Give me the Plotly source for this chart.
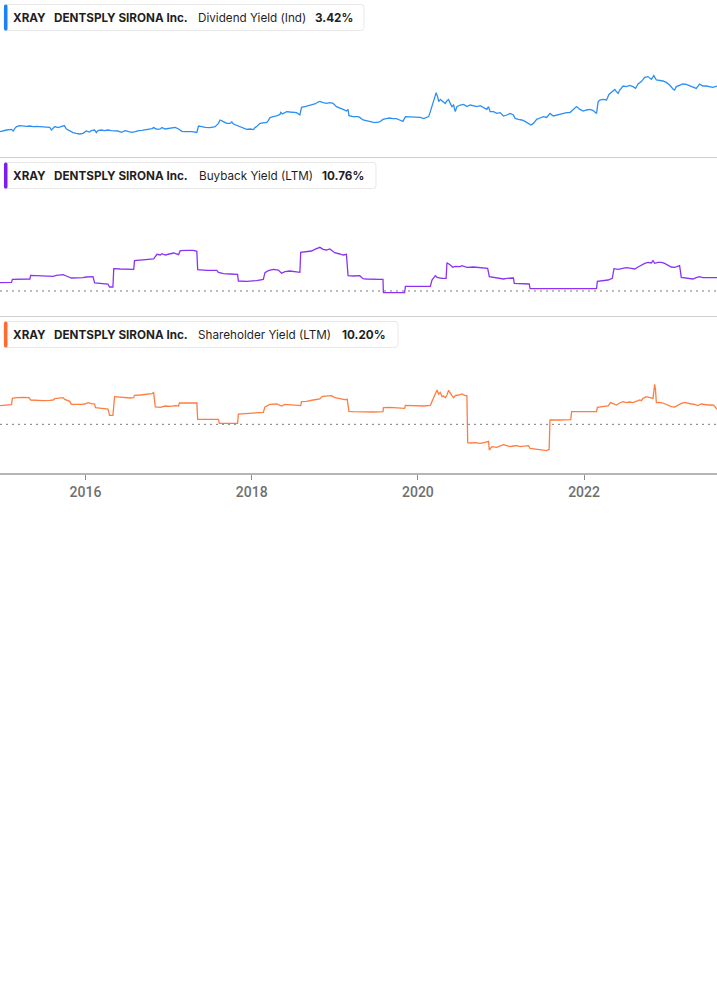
import plotly.graph_objects as go

W, H = 717, 1005

# ---------------- data ----------------
x_range = [2014.971, 2023.600]
tick_vals = [2016, 2018, 2020, 2022]
tick_text = ["2016", "2018", "2020", "2022"]

ticker = "XRAY"
company = "DENTSPLY SIRONA Inc."
metrics = ["Dividend Yield (Ind)", "Buyback Yield (LTM)", "Shareholder Yield (LTM)"]
latest = ["3.42%", "10.76%", "10.20%"]

div_t = [
    2014.97, 2015.01, 2015.05, 2015.11, 2015.13, 2015.15, 2015.17, 2015.21, 2015.25, 2015.29,
    2015.33, 2015.37, 2015.41, 2015.45, 2015.49, 2015.53, 2015.57, 2015.59, 2015.63, 2015.67,
    2015.71, 2015.745, 2015.77, 2015.81, 2015.85, 2015.89, 2015.93, 2015.97, 2016.01, 2016.05,
    2016.07, 2016.11, 2016.13, 2016.15, 2016.19, 2016.23, 2016.27, 2016.31, 2016.35, 2016.39,
    2016.43, 2016.48, 2016.52, 2016.56, 2016.60, 2016.64, 2016.68, 2016.72, 2016.76, 2016.80,
    2016.82, 2016.86, 2016.90, 2016.92, 2016.96, 2017.00, 2017.04, 2017.08, 2017.12, 2017.16,
    2017.20, 2017.24, 2017.28, 2017.34, 2017.36, 2017.40, 2017.44, 2017.50, 2017.56, 2017.60,
    2017.62, 2017.66, 2017.70, 2017.74, 2017.76, 2017.78, 2017.82, 2017.86, 2017.90, 2017.94,
    2017.98, 2018.02, 2018.04, 2018.06, 2018.10, 2018.14, 2018.18, 2018.20, 2018.22, 2018.26,
    2018.30, 2018.34, 2018.35, 2018.37, 2018.42, 2018.46, 2018.50, 2018.54, 2018.58, 2018.60,
    2018.64, 2018.68, 2018.72, 2018.76, 2018.80, 2018.82, 2018.86, 2018.90, 2018.94, 2018.98,
    2019.02, 2019.06, 2019.10, 2019.14, 2019.16, 2019.17, 2019.22, 2019.28,
    2019.30, 2019.34, 2019.38, 2019.44, 2019.48, 2019.54, 2019.58, 2019.62, 2019.66, 2019.70,
    2019.74, 2019.78, 2019.82, 2019.85, 2019.90, 2019.96, 2020.03, 2020.07, 2020.11, 2020.13,
    2020.15, 2020.19, 2020.21, 2020.22, 2020.24, 2020.25, 2020.27, 2020.31, 2020.33, 2020.35,
    2020.37, 2020.39, 2020.41, 2020.43, 2020.45, 2020.47, 2020.51, 2020.55, 2020.59, 2020.63,
    2020.67, 2020.71, 2020.75, 2020.79, 2020.83, 2020.85, 2020.87, 2020.91, 2020.95, 2020.99,
    2021.03, 2021.07, 2021.11, 2021.15, 2021.17, 2021.21, 2021.25, 2021.29, 2021.33, 2021.36,
    2021.39, 2021.43, 2021.47, 2021.51, 2021.55, 2021.59, 2021.63, 2021.67, 2021.71, 2021.75,
    2021.79, 2021.83, 2021.87, 2021.91, 2021.95, 2021.99, 2022.03, 2022.07, 2022.11, 2022.15,
    2022.17, 2022.19, 2022.23, 2022.27, 2022.30, 2022.33, 2022.37, 2022.39, 2022.41, 2022.43,
    2022.47, 2022.51, 2022.55, 2022.59, 2022.62, 2022.65, 2022.69, 2022.73, 2022.77, 2022.81,
    2022.84, 2022.87, 2022.91, 2022.95, 2022.99, 2023.03, 2023.07, 2023.09, 2023.11, 2023.15,
    2023.19, 2023.23, 2023.27, 2023.31, 2023.35, 2023.39, 2023.43, 2023.47, 2023.51, 2023.55,
    2023.60,
]
div_v = [
    1.14, 1.19, 1.22, 1.25, 1.17, 1.30, 1.39, 1.44, 1.42, 1.40,
    1.42, 1.39, 1.40, 1.39, 1.37, 1.37, 1.35, 1.22, 1.39, 1.34,
    1.40, 1.44, 1.27, 1.17, 1.09, 1.05, 1.02, 1.05, 1.17, 1.12,
    1.19, 1.22, 1.09, 1.19, 1.22, 1.19, 1.22, 1.19, 1.19, 1.17,
    1.10, 1.19, 1.14, 1.10, 1.14, 1.19, 1.20, 1.22, 1.25, 1.29,
    1.34, 1.25, 1.27, 1.34, 1.27, 1.30, 1.32, 1.35, 1.27, 1.15,
    1.14, 1.14, 1.14, 1.10, 1.42, 1.39, 1.35, 1.34, 1.39, 1.55,
    1.72, 1.64, 1.55, 1.55, 1.62, 1.52, 1.45, 1.39, 1.30, 1.25,
    1.27, 1.24, 1.34, 1.39, 1.55, 1.59, 1.60, 1.69, 1.84, 1.89,
    1.92, 2.00, 2.10, 2.02, 2.14, 2.12, 2.09, 2.09, 1.97, 2.35,
    2.39, 2.44, 2.47, 2.52, 2.62, 2.65, 2.59, 2.55, 2.59, 2.55,
    2.39, 2.30, 2.25, 2.17, 2.25, 1.94, 1.89, 1.89,
    1.85, 1.72, 1.69, 1.64, 1.59, 1.62, 1.75, 1.79, 1.82, 1.79,
    1.79, 1.72, 1.65, 1.89, 1.87, 1.85, 1.85, 1.79, 1.85, 1.89,
    2.14, 2.64, 2.89, 3.09, 2.85, 2.64, 2.75, 2.60, 2.55, 2.69,
    2.75, 2.55, 2.39, 2.47, 2.14, 2.39, 2.47, 2.50, 2.39, 2.47,
    2.42, 2.39, 2.44, 2.35, 2.25, 2.39, 2.14, 2.14, 2.05, 2.09,
    1.92, 1.97, 2.05, 1.97, 1.80, 1.75, 1.72, 1.65, 1.55, 1.47,
    1.55, 1.75, 1.82, 1.89, 1.85, 2.05, 1.92, 1.97, 2.00, 2.05,
    2.09, 2.09, 2.22, 2.39, 2.25, 2.17, 2.22, 2.25, 2.19, 2.05,
    2.64, 2.72, 2.75, 2.72, 3.00, 3.10, 3.25, 3.14, 3.05, 3.22,
    3.42, 3.39, 3.45, 3.39, 3.30, 3.52, 3.64, 3.85, 3.89, 3.75,
    3.94, 3.72, 3.69, 3.67, 3.60, 3.47, 3.27, 3.22, 3.39, 3.47,
    3.52, 3.50, 3.42, 3.35, 3.30, 3.52, 3.42, 3.42, 3.39, 3.35,
    3.42,
]

bb_t = [
    2014.97, 2015.11, 2015.12, 2015.33, 2015.34, 2015.57, 2015.61, 2015.65, 2015.73, 2015.77,
    2015.83, 2015.97, 2016.01, 2016.09, 2016.11, 2016.27, 2016.29, 2016.33, 2016.34, 2016.42,
    2016.48, 2016.58, 2016.59, 2016.70, 2016.82, 2016.84, 2016.86, 2016.90, 2016.92, 2016.96,
    2017.02, 2017.06, 2017.12, 2017.14, 2017.22, 2017.30, 2017.34, 2017.35, 2017.46, 2017.58,
    2017.60, 2017.66, 2017.74, 2017.83, 2017.84, 2017.94, 2018.06, 2018.14, 2018.16, 2018.20,
    2018.26, 2018.32, 2018.36, 2018.40, 2018.46, 2018.52, 2018.58, 2018.59, 2018.66, 2018.72,
    2018.76, 2018.78, 2018.82, 2018.86, 2018.90, 2018.94, 2018.98, 2019.00, 2019.06, 2019.10,
    2019.14, 2019.16, 2019.22, 2019.30, 2019.34, 2019.38, 2019.54, 2019.58, 2019.585, 2019.70,
    2019.84, 2019.85, 2019.99, 2020.15, 2020.17, 2020.21, 2020.23, 2020.29, 2020.34, 2020.35,
    2020.39, 2020.42, 2020.45, 2020.51, 2020.53, 2020.59, 2020.67, 2020.73, 2020.77, 2020.84,
    2020.86, 2020.91, 2020.99, 2021.03, 2021.07, 2021.15, 2021.16, 2021.27, 2021.34, 2021.35,
    2021.51, 2021.71, 2021.91, 2022.15, 2022.16, 2022.23, 2022.29, 2022.34, 2022.36, 2022.41,
    2022.47, 2022.51, 2022.57, 2022.61, 2022.65, 2022.69, 2022.73, 2022.77, 2022.81, 2022.83,
    2022.85, 2022.89, 2022.93, 2022.97, 2023.01, 2023.05, 2023.09, 2023.13, 2023.15, 2023.17,
    2023.23, 2023.31, 2023.35, 2023.39, 2023.43, 2023.51, 2023.60,
]
bb_v = [
    6.75, 7.02, 9.45, 9.72, 12.69, 12.15, 11.88, 12.69, 13.23, 12.15,
    10.53, 10.80, 11.34, 11.61, 6.48, 5.67, 3.24, 3.24, 18.09, 17.82,
    17.55, 17.55, 24.57, 25.38, 25.92, 27.81, 29.70, 29.16, 30.24, 29.16,
    30.24, 30.78, 29.43, 32.67, 32.94, 32.94, 32.13, 17.28, 16.74, 16.74,
    15.12, 14.04, 13.77, 13.50, 8.10, 7.83, 8.37, 9.45, 14.85, 16.47,
    17.55, 17.01, 14.31, 15.66, 16.20, 15.39, 15.12, 31.32, 31.86, 32.40,
    33.75, 34.29, 35.37, 33.75, 33.21, 34.02, 32.40, 31.05, 29.97, 29.16,
    29.70, 12.42, 12.15, 12.42, 9.99, 9.72, 9.45, 9.45, -1.35, -1.62,
    -1.35, 3.78, 3.51, 3.78, 8.91, 12.42, 11.07, 10.26, 10.26, 22.95,
    21.06, 19.17, 19.98, 19.71, 20.52, 19.17, 19.44, 19.17, 18.63, 18.36,
    11.61, 11.07, 10.53, 9.72, 10.26, 10.53, 6.21, 5.94, 5.67, 1.89,
    1.89, 1.89, 1.89, 1.89, 7.83, 8.37, 8.91, 10.26, 18.09, 17.55,
    18.63, 18.90, 18.36, 17.82, 19.44, 21.06, 22.41, 23.22, 22.68, 24.57,
    22.41, 23.22, 23.22, 22.41, 21.06, 19.44, 19.17, 20.25, 20.52, 11.07,
    10.26, 9.72, 10.80, 11.61, 10.80, 10.80, 10.76,
]

sh_t = [
    2014.97, 2015.05, 2015.11, 2015.12, 2015.17, 2015.25, 2015.32, 2015.34, 2015.41, 2015.49,
    2015.57, 2015.61, 2015.63, 2015.69, 2015.73, 2015.75, 2015.77, 2015.81, 2015.83, 2015.89,
    2015.95, 2015.99, 2016.03, 2016.07, 2016.11, 2016.12, 2016.17, 2016.23, 2016.27, 2016.29,
    2016.33, 2016.35, 2016.42, 2016.48, 2016.54, 2016.58, 2016.59, 2016.66, 2016.74, 2016.80,
    2016.82, 2016.84, 2016.90, 2016.96, 2017.02, 2017.08, 2017.12, 2017.13, 2017.22, 2017.34,
    2017.35, 2017.46, 2017.60, 2017.61, 2017.70, 2017.83, 2017.84, 2017.94, 2018.06, 2018.14,
    2018.16, 2018.22, 2018.30, 2018.36, 2018.40, 2018.46, 2018.54, 2018.59, 2018.60, 2018.66,
    2018.74, 2018.82, 2018.85, 2018.90, 2018.96, 2019.00, 2019.06, 2019.12, 2019.15, 2019.17,
    2019.22, 2019.30, 2019.38, 2019.46, 2019.58, 2019.585, 2019.66, 2019.74, 2019.84, 2019.85,
    2019.95, 2020.07, 2020.15, 2020.17, 2020.21, 2020.23, 2020.25, 2020.27, 2020.29, 2020.31,
    2020.33, 2020.35, 2020.37, 2020.39, 2020.41, 2020.43, 2020.45, 2020.49, 2020.53, 2020.57,
    2020.59, 2020.60, 2020.63, 2020.69, 2020.75, 2020.81, 2020.85, 2020.86, 2020.89, 2020.95,
    2020.99, 2021.03, 2021.07, 2021.11, 2021.15, 2021.19, 2021.23, 2021.27, 2021.31, 2021.33,
    2021.35, 2021.43, 2021.49, 2021.55, 2021.58, 2021.59, 2021.71, 2021.84, 2021.85, 2021.95,
    2022.07, 2022.15, 2022.16, 2022.23, 2022.29, 2022.32, 2022.35, 2022.39, 2022.43, 2022.47,
    2022.51, 2022.55, 2022.59, 2022.63, 2022.67, 2022.69, 2022.71, 2022.75, 2022.79, 2022.83,
    2022.85, 2022.86, 2022.87, 2022.91, 2022.95, 2022.99, 2023.05, 2023.09, 2023.13, 2023.17,
    2023.21, 2023.25, 2023.29, 2023.33, 2023.37, 2023.41, 2023.45, 2023.49, 2023.55, 2023.57,
    2023.60,
]
sh_v = [
    12.70, 13.15, 13.38, 17.68, 18.14, 18.36, 18.14, 16.55, 16.10, 16.10,
    16.32, 16.55, 17.46, 17.68, 18.14, 17.00, 16.55, 15.64, 13.60, 13.38,
    13.60, 13.83, 14.74, 14.06, 13.83, 11.34, 10.88, 10.43, 10.43, 6.12,
    6.12, 18.82, 18.36, 18.14, 17.91, 18.14, 19.72, 19.95, 20.40, 20.86,
    21.54, 11.79, 11.56, 12.47, 12.24, 12.70, 12.47, 14.51, 14.51, 14.51,
    3.40, 3.40, 3.40, 0.68, 0.68, 0.68, 7.03, 7.25, 7.71, 8.16,
    11.79, 13.60, 13.83, 12.47, 13.60, 13.38, 13.15, 12.70, 15.42, 15.64,
    16.55, 17.23, 19.04, 19.27, 19.50, 18.14, 17.23, 16.78, 17.00, 8.84,
    8.61, 8.39, 8.61, 8.39, 8.61, 11.34, 11.56, 11.11, 10.88, 12.92,
    12.70, 12.47, 12.92, 15.42, 19.95, 23.35, 20.63, 21.76, 18.82, 19.27,
    18.14, 19.95, 23.12, 21.08, 19.50, 18.14, 19.50, 19.95, 20.63, 19.50,
    19.50, -12.47, -12.70, -12.47, -12.92, -12.24, -11.56, -17.46, -15.19, -15.64,
    -14.74, -13.83, -14.51, -15.19, -14.74, -14.51, -15.19, -14.74, -14.51, -14.51,
    -16.32, -16.78, -17.23, -17.91, -17.00, 2.95, 2.95, 3.17, 8.61, 8.61,
    8.39, 8.61, 11.56, 12.24, 12.47, 14.74, 13.83, 13.15, 14.51, 15.42,
    14.74, 15.19, 14.74, 15.64, 16.55, 16.10, 17.68, 18.82, 18.36, 17.68,
    27.20, 23.35, 14.74, 14.96, 14.51, 13.60, 12.02, 11.79, 13.15, 14.28,
    14.96, 14.28, 13.83, 13.60, 12.70, 13.83, 13.38, 13.15, 13.15, 12.47,
    10.20,
]

assert len(div_t) == len(div_v)
assert len(bb_t) == len(bb_v)
assert len(sh_t) == len(sh_v)

# ---------------- layout helpers ----------------
def px_x(p):
    return p / W

def px_y(p):
    return 1 - p / H

# panel pixel extents (top, bottom)
panels = [(0, 157.5), (158, 316.5), (317, 473)]
y_ranges = [[-0.155, 7.72], [-20.66, 107.73], [-33.09, 72.99]]
line_colors = ["#2b8ff5", "#8a33f2", "#ff7d42"]
bar_colors = ["#1a82f7", "#7d1cf2", "#ff6d2e"]
series = [(div_t, div_v), (bb_t, bb_v), (sh_t, sh_v)]

fig = go.Figure()
yaxes = ["y", "y2", "y3"]
for i, (t, v) in enumerate(series):
    fig.add_trace(go.Scatter(
        x=t, y=v, mode="lines", xaxis="x", yaxis=yaxes[i],
        line=dict(color=line_colors[i], width=1.3), hoverinfo="skip",
    ))

shapes = []
# separators
for ypx in [157.5, 316.5]:
    shapes.append(dict(type="line", xref="paper", yref="paper", x0=0, x1=1,
                       y0=px_y(ypx), y1=px_y(ypx), line=dict(color="#cfcfcf", width=1)))
# dotted zero lines
for ya in ["y2", "y3"]:
    shapes.append(dict(type="line", xref="paper", yref=ya, x0=0, x1=1, y0=0, y1=0,
                       line=dict(color="#7a7a7a", width=1, dash="2px,4px")))


def rrect(x0, y0, x1, y1, r):
    pts = []
    def P(x, y):
        return f"{px_x(x):.6f},{px_y(y):.6f}"
    pts.append("M" + P(x0 + r, y0))
    pts.append("L" + P(x1 - r, y0))
    pts.append("Q" + P(x1, y0) + " " + P(x1, y0 + r))
    pts.append("L" + P(x1, y1 - r))
    pts.append("Q" + P(x1, y1) + " " + P(x1 - r, y1))
    pts.append("L" + P(x0 + r, y1))
    pts.append("Q" + P(x0, y1) + " " + P(x0, y1 - r))
    pts.append("L" + P(x0, y0 + r))
    pts.append("Q" + P(x0, y0) + " " + P(x0 + r, y0))
    return " ".join(pts) + " Z"

boxes = [(4, 4.5, 364, 30.5), (4, 162.5, 376, 188.5), (4, 321.5, 398, 347.5)]
text_x = [(13, 54, 198, 315), (13, 54, 199, 322), (13, 54, 198, 342)]
annotations = []
for i, (x0, y0, x1, y1) in enumerate(boxes):
    shapes.append(dict(type="path", xref="paper", yref="paper", path=rrect(x0, y0, x1, y1, 3),
                       fillcolor="white", line=dict(color="#e8e8e8", width=1), layer="above"))
    shapes.append(dict(type="path", xref="paper", yref="paper", path=rrect(x0, y0, x0 + 3.5, y1, 1.6),
                       fillcolor=bar_colors[i], line=dict(width=0), layer="above"))
    yc = (y0 + y1) / 2 + 0.5
    parts = [f"<b>{ticker}</b>", f"<b>{company}</b>", metrics[i], f"<b>{latest[i]}</b>"]
    for xp, txt in zip(text_x[i], parts):
        annotations.append(dict(x=px_x(xp), y=px_y(yc), xref="paper", yref="paper",
                                xanchor="left", yanchor="middle", showarrow=False,
                                text=txt, borderpad=0, borderwidth=0,
                                font=dict(family="Inter, Roboto, sans-serif", size=11.7, color="#1f1f1f")))

layout = dict(
    width=W, height=H, margin=dict(l=0, r=0, t=0, b=0),
    paper_bgcolor="white", plot_bgcolor="white", showlegend=False,
    shapes=shapes, annotations=annotations,
    xaxis=dict(range=x_range, domain=[0, 1], anchor="y3", tickmode="array",
               tickvals=tick_vals, ticktext=tick_text, ticks="outside", ticklen=5,
               tickcolor="#8a8a8a", tickwidth=1, showline=True, linecolor="#b5b5b5",
               linewidth=2, showgrid=False, zeroline=False,
               tickfont=dict(family="Roboto, sans-serif", size=14, color="#6f6f6f", weight=500)),
)
for i, ya in enumerate(["yaxis", "yaxis2", "yaxis3"]):
    top, bot = panels[i]
    layout[ya] = dict(domain=[px_y(bot), px_y(top)], range=y_ranges[i], visible=False,
                      showgrid=False, zeroline=False, anchor="x")

fig.update_layout(**layout)
fig.write_html("out.html")
